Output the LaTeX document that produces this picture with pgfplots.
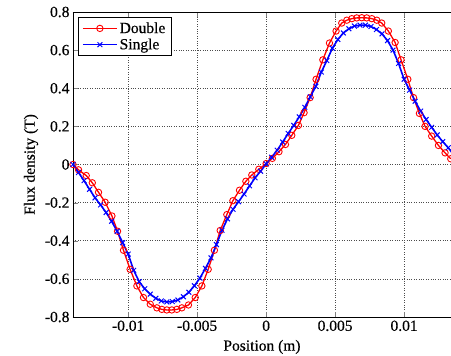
\documentclass[border=0pt]{standalone}
\usepackage{fontspec}
\setmainfont{Liberation Serif}[FakeBold=0.4]
\usepackage{pgfplots}
\pgfplotsset{compat=1.18}
\begin{document}
\begin{tikzpicture}
\begin{axis}[name=ax, scale only axis, width=378pt, height=305pt,
  xmin=-0.014, xmax=0.0134, ymin=-0.8, ymax=0.8,
  axis y line*=left, axis x line*=box,
  tick align=inside, major tick length=5pt,
  axis line style={line width=0.8pt, black},
  xtick={-0.01,-0.005,0,0.005,0.01},
  xticklabels={-0.01,-0.005,0,0.005,0.01},
  ytick={-0.8,-0.6,-0.4,-0.2,0,0.2,0.4,0.6,0.8},
  yticklabels={-0.8,-0.6,-0.4,-0.2,0,0.2,0.4,0.6,0.8},
  scaled x ticks=false, scaled y ticks=false,
  grid=major, grid style={dotted, line width=0.7pt, black!70},
  tick label style={font=\fontsize{15.5}{17}\selectfont},
  label style={font=\fontsize{15.5}{17}\selectfont},
  xlabel={Position (m)}, ylabel={Flux density (T)},
  xlabel style={yshift=-2pt},
  legend cell align=left,
  legend style={at={(0.014,0.982)}, anchor=north west, draw=black, line width=0.6pt,
    font=\fontsize{15.5}{17}\selectfont, inner xsep=3.5pt, inner ysep=2.5pt, row sep=0pt},
  legend image code/.code={\draw[mark repeat=2,mark phase=2] plot coordinates {(0pt,0pt) (17pt,0pt) (34pt,0pt)};},
]
\addplot[color=red, line width=1.3pt, mark=o, mark size=3.2pt, mark options={solid, line width=0.9pt}] table {
x y
-0.01400 0.000
-0.01360 -0.028
-0.01304 -0.058
-0.01260 -0.096
-0.01215 -0.146
-0.01167 -0.198
-0.01118 -0.270
-0.01077 -0.350
-0.01034 -0.450
-0.00986 -0.550
-0.00937 -0.637
-0.00889 -0.698
-0.00840 -0.733
-0.00792 -0.752
-0.00756 -0.760
-0.00720 -0.763
-0.00684 -0.763
-0.00647 -0.760
-0.00611 -0.752
-0.00563 -0.737
-0.00514 -0.698
-0.00466 -0.637
-0.00420 -0.550
-0.00375 -0.450
-0.00333 -0.346
-0.00285 -0.263
-0.00241 -0.190
-0.00193 -0.135
-0.00147 -0.088
-0.00104 -0.055
-0.00053 -0.025
0.00000 0.005
0.00045 0.032
0.00093 0.067
0.00140 0.105
0.00186 0.153
0.00234 0.205
0.00275 0.272
0.00319 0.351
0.00362 0.447
0.00411 0.549
0.00459 0.637
0.00507 0.700
0.00548 0.742
0.00585 0.757
0.00621 0.765
0.00657 0.769
0.00693 0.770
0.00729 0.769
0.00766 0.765
0.00802 0.757
0.00838 0.742
0.00886 0.700
0.00935 0.640
0.00978 0.549
0.01027 0.447
0.01068 0.351
0.01111 0.268
0.01152 0.200
0.01200 0.149
0.01249 0.100
0.01297 0.061
0.01338 0.030
};
\addlegendentry{Double}
\addplot[color=blue, line width=1.6pt, mark=x, mark size=3.4pt, mark options={solid, line width=1pt}] table {
x y
-0.01400 0.000
-0.01360 -0.042
-0.01320 -0.085
-0.01280 -0.130
-0.01240 -0.175
-0.01200 -0.212
-0.01160 -0.252
-0.01120 -0.298
-0.01080 -0.350
-0.01040 -0.410
-0.01000 -0.470
-0.00960 -0.555
-0.00920 -0.615
-0.00880 -0.652
-0.00840 -0.680
-0.00800 -0.702
-0.00760 -0.716
-0.00720 -0.721
-0.00680 -0.719
-0.00640 -0.711
-0.00600 -0.694
-0.00560 -0.670
-0.00520 -0.636
-0.00480 -0.596
-0.00440 -0.545
-0.00400 -0.490
-0.00360 -0.420
-0.00320 -0.345
-0.00280 -0.285
-0.00240 -0.235
-0.00200 -0.195
-0.00160 -0.155
-0.00120 -0.112
-0.00080 -0.070
-0.00040 -0.035
0.00000 0.003
0.00040 0.038
0.00080 0.075
0.00120 0.118
0.00160 0.163
0.00200 0.205
0.00240 0.250
0.00280 0.300
0.00320 0.355
0.00360 0.410
0.00400 0.485
0.00440 0.545
0.00480 0.610
0.00520 0.656
0.00560 0.690
0.00600 0.712
0.00640 0.726
0.00680 0.731
0.00720 0.731
0.00760 0.724
0.00800 0.708
0.00840 0.685
0.00880 0.650
0.00920 0.600
0.00960 0.530
0.01000 0.447
0.01040 0.390
0.01080 0.332
0.01120 0.280
0.01160 0.236
0.01200 0.195
0.01240 0.155
0.01280 0.120
0.01320 0.088
0.01360 0.050
};
\addlegendentry{Single}
\end{axis}
\pgfresetboundingbox
\path[use as bounding box] ([xshift=-73pt,yshift=-39pt]ax.south west) rectangle ([yshift=12pt]ax.north east);
\end{tikzpicture}
\end{document}
